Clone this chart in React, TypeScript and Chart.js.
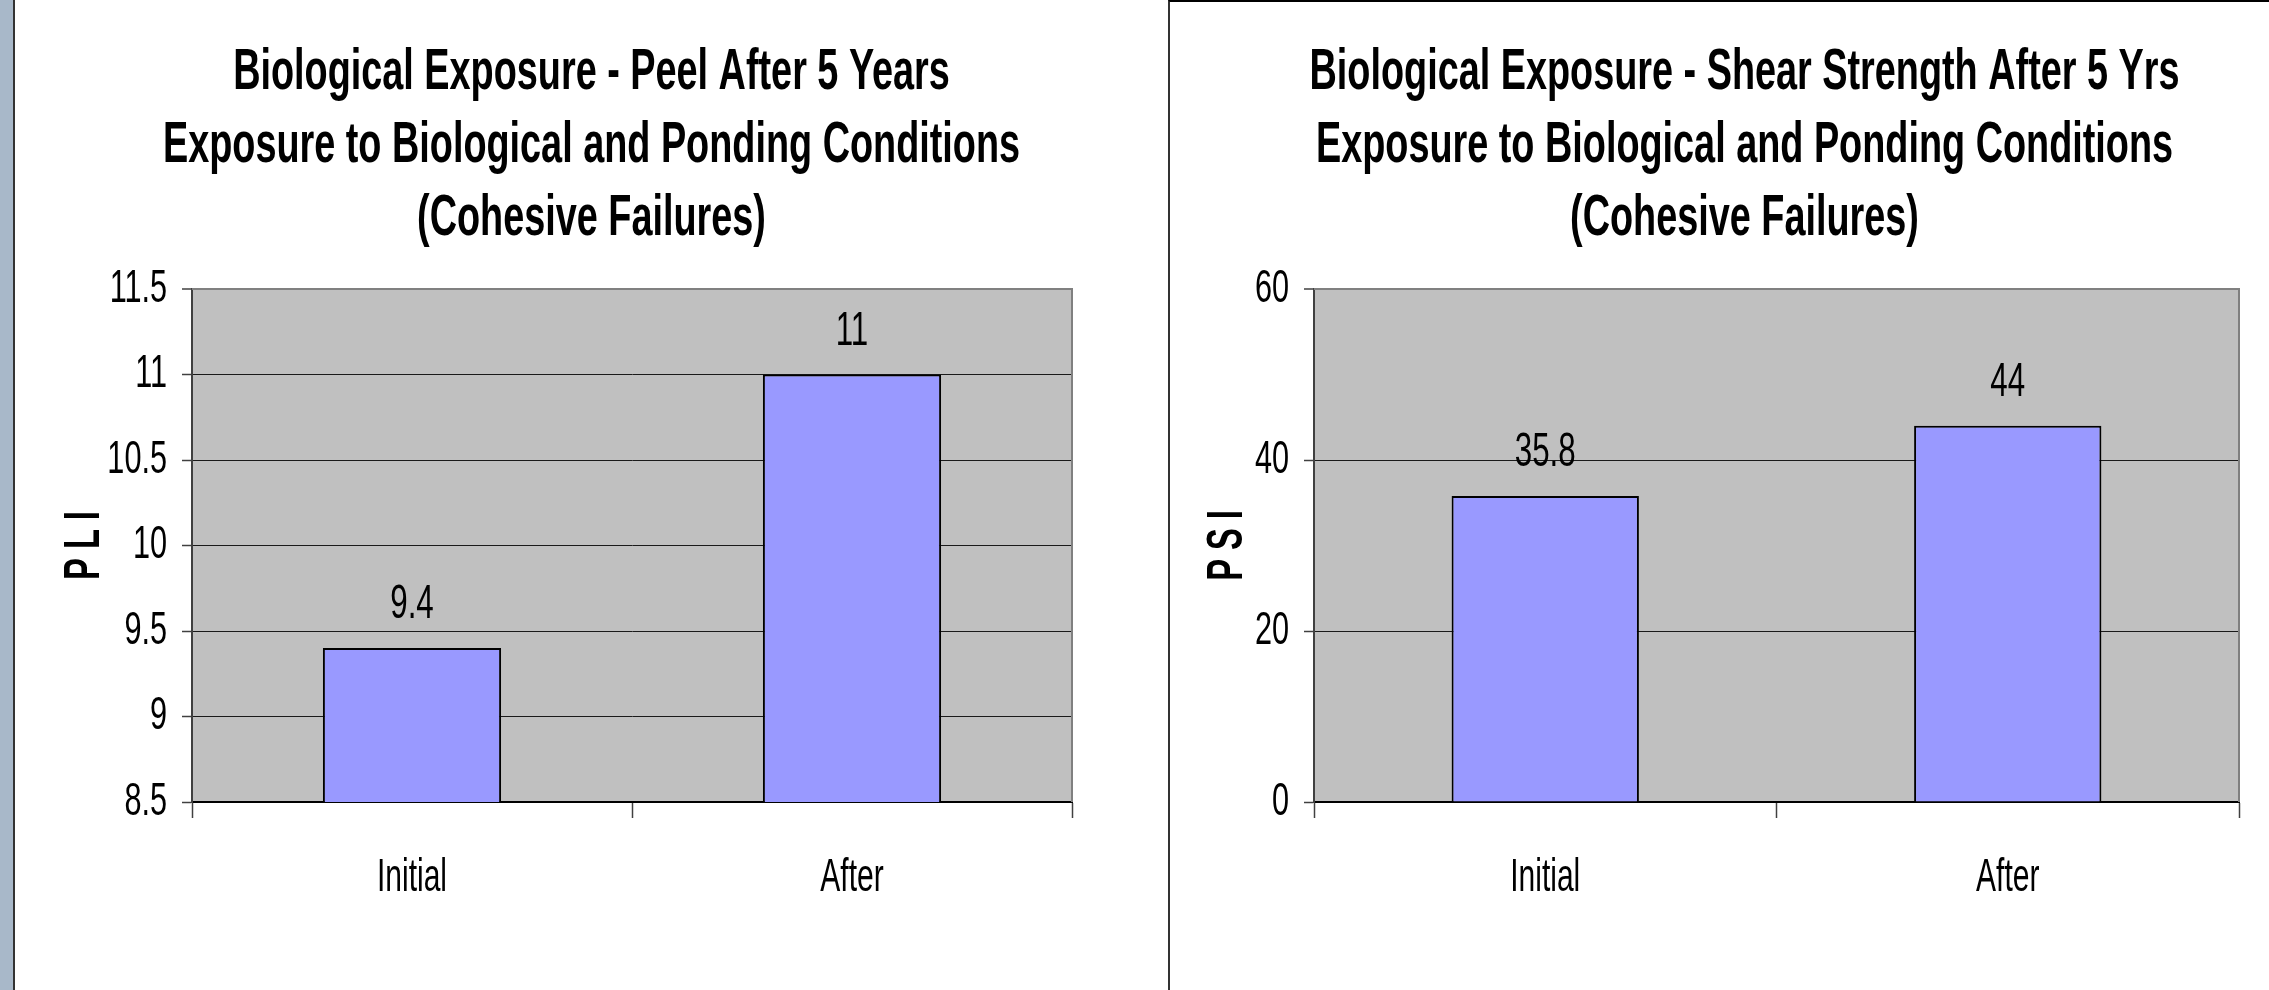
import React, { useEffect, useRef } from "react";
import { Chart, registerables } from "chart.js";

Chart.register(...registerables);

const categories = ["Initial", "After"];
const peelValues = [9.4, 11];
const shearValues = [35.8, 44];
const peelTitle = [
  "Biological Exposure - Peel After 5 Years",
  "Exposure to Biological and Ponding Conditions",
  "(Cohesive Failures)",
];
const shearTitle = [
  "Biological Exposure - Shear Strength After 5 Yrs",
  "Exposure to Biological and Ponding Conditions",
  "(Cohesive Failures)",
];
const peelRange = [8.5, 11.5, 0.5];
const shearRange = [0, 60, 20];
const peelAxisTitle = "P L I";
const shearAxisTitle = "P S I";

const FAMILY = '"Liberation Sans", Arial, Helvetica, sans-serif';
const SX = 0.652; // horizontal squeeze of glyphs (narrow look)

function narrowContext(canvas: HTMLCanvasElement) {
  const ctx: any = canvas.getContext("2d");
  if (!ctx || ctx.__narrow) return;
  const origFill = ctx.fillText.bind(ctx);
  const origMeasure = ctx.measureText.bind(ctx);
  ctx.fillText = function (text: string, x: number, y: number, maxWidth?: number) {
    ctx.save();
    ctx.translate(x, y);
    ctx.scale(SX, 1);
    if (maxWidth === undefined || maxWidth === null) origFill(text, 0, 0);
    else origFill(text, 0, 0, maxWidth / SX);
    ctx.restore();
  };
  ctx.measureText = function (text: string) {
    const m = origMeasure(text);
    return {
      width: m.width * SX,
      actualBoundingBoxLeft: m.actualBoundingBoxLeft * SX,
      actualBoundingBoxRight: m.actualBoundingBoxRight * SX,
      actualBoundingBoxAscent: m.actualBoundingBoxAscent,
      actualBoundingBoxDescent: m.actualBoundingBoxDescent,
      fontBoundingBoxAscent: m.fontBoundingBoxAscent,
      fontBoundingBoxDescent: m.fontBoundingBoxDescent,
    };
  };
  ctx.__narrow = true;
}

const plotPlugin = {
  id: "plotBg",
  beforeDraw(chart: any) {
    const { ctx, chartArea: a } = chart;
    ctx.save();
    ctx.fillStyle = "#c0c0c0";
    ctx.fillRect(a.left, a.top, a.right - a.left, a.bottom - a.top);
    ctx.restore();
  },
  beforeDatasetsDraw(chart: any) {
    const { ctx, chartArea: a } = chart;
    ctx.save();
    ctx.strokeStyle = "#808080";
    ctx.lineWidth = 2;
    ctx.beginPath();
    ctx.moveTo(a.left, a.top);
    ctx.lineTo(a.right, a.top);
    ctx.lineTo(a.right, a.bottom);
    ctx.stroke();
    ctx.restore();
  },
  afterDatasetsDraw(chart: any) {
    const { ctx } = chart;
    const meta = chart.getDatasetMeta(0);
    const data = chart.data.datasets[0].data;
    ctx.save();
    ctx.fillStyle = "#000";
    ctx.font = `48px ${FAMILY}`;
    ctx.textAlign = "center";
    ctx.textBaseline = "alphabetic";
    meta.data.forEach((bar: any, i: number) => {
      ctx.fillText(String(data[i]), bar.x, bar.y - 30);
    });
    ctx.restore();
  },
};

function makeConfig(values: number[], title: string[], range: number[], axisTitle: string, axisWidth: number, rightPad: number, axisTitlePad: number): any {
  const [min, max, step] = range;
  return {
    type: "bar",
    data: {
      labels: categories,
      datasets: [
        {
          data: values,
          backgroundColor: "#9999ff",
          borderColor: "#000",
          borderWidth: 2,
          borderSkipped: "bottom",
          categoryPercentage: 1,
          barPercentage: 0.405,
          yAxisID: "y",
        },
      ],
    },
    plugins: [plotPlugin],
    options: {
      animation: false,
      responsive: false,
      devicePixelRatio: 1,
      layout: { padding: 0 },
      plugins: {
        legend: { display: false },
        tooltip: { enabled: false },
        title: {
          display: true,
          text: title,
          color: "#000",
          font: { family: FAMILY, size: 58, weight: "bold", lineHeight: "73px" },
          padding: { top: 36, bottom: 34 },
        },
      },
      scales: {
        x: {
          afterFit(scale: any) {
            scale.height = 188;
          },
          grid: {
            display: true,
            drawOnChartArea: false,
            drawTicks: true,
            tickLength: 16,
            offset: true,
            tickColor: "#404040",
            tickWidth: 1.5,
          },
          border: { display: true, color: "#000", width: 2 },
          ticks: {
            color: "#000",
            font: { family: FAMILY, size: 46 },
            padding: 33,
          },
        },
        y: {
          min,
          max,
          afterFit(scale: any) {
            scale.width = axisWidth;
          },
          ticks: {
            stepSize: step,
            color: "#000",
            font: { family: FAMILY, size: 47 },
            padding: 15,
            callback: (v: any) => String(Number(v)),
          },
          grid: {
            color: (c: any) => (c.tick && c.tick.value === max ? "#808080" : "#1a1a1a"),
            lineWidth: (c: any) => (c.tick && c.tick.value === max ? 2 : 1),
            tickLength: 10,
            tickColor: "#404040",
            tickWidth: 1.5,
          },
          border: { display: true, color: "#404040", width: 2 },
          title: {
            display: true,
            text: axisTitle,
            color: "#000",
            font: { family: FAMILY, size: 50, weight: "bold", lineHeight: 1.2 },
            padding: { top: axisTitlePad, bottom: 0 },
          },
        },
        spacer: {
          type: "linear",
          position: "right",
          display: true,
          afterFit(scale: any) {
            scale.width = rightPad;
          },
          grid: { display: false, drawTicks: false },
          border: { display: false },
          ticks: { display: false },
        },
      },
    },
  };
}

function BarChart({ config, left }: { config: any; left: number }) {
  const ref = useRef<HTMLCanvasElement | null>(null);
  useEffect(() => {
    if (!ref.current) return;
    narrowContext(ref.current);
    const chart = new Chart(ref.current, config);
    return () => chart.destroy();
  }, [config]);
  return (
    <canvas
      ref={ref}
      width={1153}
      height={990}
      style={{ position: "absolute", left, top: 0, width: 1153, height: 990 }}
    />
  );
}

const peelConfig = makeConfig(peelValues, peelTitle, peelRange, peelAxisTitle, 177, 96, 40);
const shearConfig = makeConfig(shearValues, shearTitle, shearRange, shearAxisTitle, 146, 82, 30);

export default function App() {
  return (
    <div style={{ position: "fixed", inset: 0, overflow: "hidden", background: "#fff" }}>
      <div style={{ position: "absolute", left: 0, top: 0, width: 13, height: "100%", background: "#a8b8c9" }} />
      <div style={{ position: "absolute", left: 13, top: 0, width: 2, height: "100%", background: "#333" }} />
      <BarChart config={peelConfig} left={15} />
      <BarChart config={shearConfig} left={1168} />
      <div
        style={{
          position: "absolute",
          left: 1168,
          top: 0,
          right: 0,
          height: "100%",
          borderLeft: "2px solid #333",
          borderTop: "2px solid #000",
          pointerEvents: "none",
        }}
      />
    </div>
  );
}
